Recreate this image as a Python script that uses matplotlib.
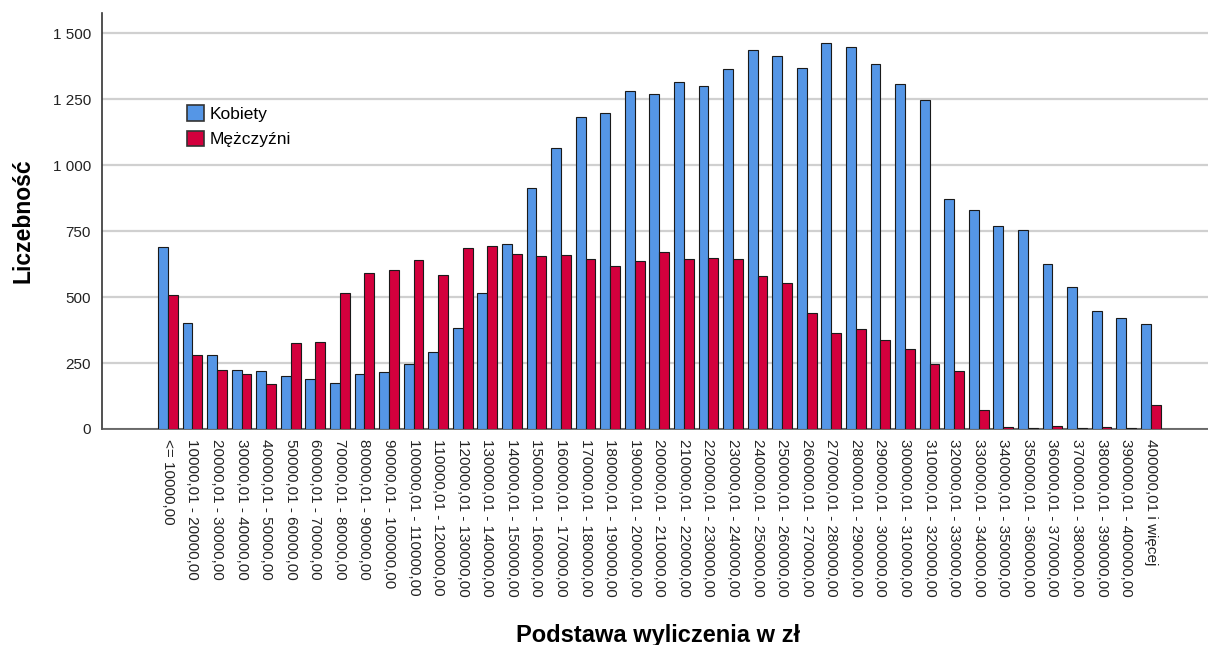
import numpy as np
import matplotlib
matplotlib.use('Agg')
import matplotlib.pyplot as plt
from matplotlib.ticker import FuncFormatter

plt.rcParams['font.family'] = ['Liberation Sans', 'DejaVu Sans']

# --- data ---
categories = ['<= 10000,00'] + [f'{a}0000,01 - {a + 1}0000,00' for a in range(1, 40)] + ['400000,01 i więcej']
kobiety = [689, 403, 279, 224, 220, 200, 190, 174, 207, 215,
           245, 291, 384, 516, 700, 915, 1065, 1184, 1200, 1282,
           1271, 1314, 1302, 1365, 1437, 1415, 1370, 1464, 1449, 1384,
           1308, 1248, 872, 831, 771, 754, 625, 537, 447, 420, 399]
mezczyzni = [509, 280, 224, 210, 171, 326, 329, 514, 593, 604,
             641, 583, 685, 693, 662, 656, 660, 644, 617, 636,
             671, 643, 648, 643, 580, 552, 441, 365, 380, 337,
             302, 246, 219, 73, 8, 2, 11, 5, 9, 3, 90]
series_names = ['Kobiety', 'Mężczyźni']
colors = ['#5596e6', '#d3003d']

fig = plt.figure(figsize=(12.08, 6.45), dpi=100)
ax = fig.add_axes([0.0844, 0.3349, 0.9156, 0.6444])

x = np.arange(len(categories))
w = 0.4
ax.bar(x - w / 2, kobiety, w, color=colors[0], edgecolor='#1a1a1a', linewidth=0.8, label=series_names[0], zorder=3)
ax.bar(x + w / 2, mezczyzni, w, color=colors[1], edgecolor='#1a1a1a', linewidth=0.8, label=series_names[1], zorder=3)

ax.set_xlim(-2.68, 42.33); ax.set_ylim(0, 1576)
ax.set_yticks([0, 250, 500, 750, 1000, 1250, 1500])
ax.yaxis.set_major_formatter(FuncFormatter(lambda v, p: f'{int(v):,}'.replace(',', ' ')))
ax.grid(axis='y', color='#d0d0d0', linewidth=1.6, zorder=0)
ax.set_xticks(x)
ax.set_xticklabels(categories, rotation=270, fontsize=11, va='top', ha='center')
ax.tick_params(axis='both', length=0, colors='#222222')
ax.tick_params(axis='x', pad=7, labelsize=11)
ax.tick_params(axis='y', pad=8, labelsize=11)
for s in ['top', 'right']: ax.spines[s].set_visible(False)
ax.spines['left'].set_color('#333333'); ax.spines['bottom'].set_color('#555555')
ax.spines['left'].set_linewidth(1.2); ax.spines['bottom'].set_linewidth(1.2)

ax.set_ylabel('Liczebność', fontsize=16.5, fontweight='bold')
ax.yaxis.set_label_coords(-0.061, 0.5)
fig.text(0.545, 0.0155, 'Podstawa wyliczenia w zł', fontsize=17, fontweight='bold', ha='center', va='center')

leg = ax.legend(loc='upper left', bbox_to_anchor=(0.069, 0.80), frameon=False, fontsize=12.5,
                handlelength=1.0, handleheight=1.0, handletextpad=0.3, labelspacing=0.5, borderpad=0)
for h in leg.legend_handles: h.set_edgecolor('#333333'); h.set_linewidth(1.2)

fig.savefig('out.png', dpi=100)
